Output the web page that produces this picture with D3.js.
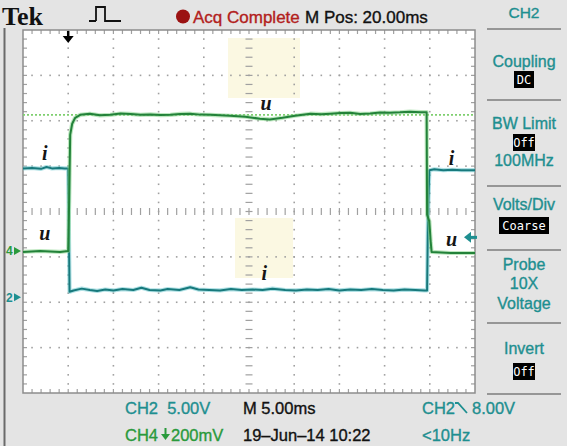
<!DOCTYPE html>
<html>
<head>
<meta charset="utf-8">
<script src="https://cdn.jsdelivr.net/npm/d3@7"></script>
<style>
  body { margin: 0; background: #e4e4e4; }
  svg { display: block; }
</style>
</head>
<body>
<div id="scope"></div>
<script>
// Data (time in ms from trigger, CH2 in V, CH4 in mV).
var iTime = [-5, -4, -3, -2.4, -1.8, -1, -0.4, 0, 0.08, 0.15, 0.6, 1.5, 2.4, 3.2, 4.1, 5, 6, 7.2, 8.1, 9, 10.2, 11, 12.3, 13.5, 14.4, 15.6, 16.8, 18, 19.2, 20.4, 21.5, 22.6, 24, 25.2, 26.4, 27.6, 28.8, 30, 31.2, 32.4, 33.6, 34.8, 36, 37.2, 38.4, 39.4, 39.7, 39.8, 39.95, 40.5, 41.5, 42.5, 43.5, 45];
var iVolts = [14.2, 14.25, 14.15, 14.35, 14.2, 14.25, 14.2, 14.2, 7, 0.6, 0.75, 0.95, 0.8, 0.7, 0.85, 0.75, 0.9, 0.8, 1.05, 0.8, 0.75, 0.9, 0.8, 1.1, 0.85, 0.8, 0.75, 0.9, 0.8, 0.85, 0.8, 0.95, 0.8, 0.75, 0.85, 0.8, 0.9, 0.75, 0.85, 0.8, 0.9, 0.8, 0.75, 0.85, 0.8, 0.75, 0.75, 9, 14.0, 14.1, 14.0, 14.05, 14.0, 14.0];

var uTime = [-5, -3.1, -0.9, 0, 0.11, 0.22, 0.44, 0.77, 1.33, 2.4, 3.5, 4.65, 5.8, 6.9, 8, 9.1, 10.2, 11.3, 12.4, 13.5, 14.6, 15.7, 16.8, 17.9, 19.6, 21.2, 22.3, 23.7, 25.1, 26.8, 28, 29, 30.1, 31.2, 32.3, 33.4, 34.5, 35.6, 36.7, 37.8, 39, 39.65, 39.7, 39.95, 40.1, 40.2, 42.3, 45];
var uMilliVolts = [-4, 0, -4, 0, 225, 512, 561, 587, 600, 605, 598, 600, 606, 604, 600, 602, 599, 600, 604, 605, 601, 600, 598, 596, 592, 583, 580, 587, 596, 605, 603, 605, 608, 609, 604, 606, 610, 609, 611, 614, 612, 612, 160, 130, 40, -4, -9, -9];

var refLevel = 600;      // dotted CH4 reference line, mV
var trigMarker = 6.6;    // CH2 trigger marker, V (as drawn on screen)
var ch2Ground = -1.89;   // divisions from centre
var ch4Ground = -0.87;
var ch2PerDiv = 5;       // V/div
var ch4PerDiv = 200;     // mV/div

var uLabels = [[-2.6, -0.63], [21.9, 2.24], [42.4, -0.76]];   // [ms, div] positions of "u"
var iLabels = [[-2.6, 1.13], [42.4, 1.02], [21.7, -1.51]];

var W = 567, H = 446;
var svg = d3.select("#scope").append("svg").attr("width", W).attr("height", H);
var sans = "'Liberation Sans', Arial, sans-serif";
var serif = "'Liberation Serif', 'DejaVu Serif', serif";
var teal = "#1e8f90", green = "#2a9a3c";

svg.append("rect").attr("width", W).attr("height", H).attr("fill", "#e4e4e4");
svg.append("line").attr("x1", 4.5).attr("x2", 4.5).attr("y1", 28).attr("y2", H)
	.attr("stroke", "#6a6a6a").attr("stroke-width", 2);

// Graticule.
var gx = d3.scaleLinear().domain([0, 10]).range([23, 475]);
var gy = d3.scaleLinear().domain([0, 8]).range([30, 393]);
var x = d3.scaleLinear().domain([-5, 45]).range([23, 475]);
var yDiv = d3.scaleLinear().domain([-4, 4]).range([393, 30]);
var yI = function (v) { return yDiv(ch2Ground + v / ch2PerDiv); };
var yU = function (v) { return yDiv(ch4Ground + v / ch4PerDiv); };

svg.append("rect").attr("x", gx(0)).attr("y", gy(0)).attr("width", gx(10) - gx(0)).attr("height", gy(8) - gy(0))
	.attr("fill", "#ffffff");

// Cream patches behind the labels.
svg.append("rect").attr("x", 228).attr("y", 38).attr("width", 72).attr("height", 60).attr("fill", "#fbf8e2");
svg.append("rect").attr("x", 235).attr("y", 218).attr("width", 58).attr("height", 60).attr("fill", "#fbf8e2");

var grid = svg.append("g").attr("fill", "#a0a0a0").attr("stroke", "#a0a0a0");
var minorX = d3.range(1, 50), minorY = d3.range(1, 40);
d3.range(1, 10).forEach(function (i) {
	if (i === 5) return;
	minorY.forEach(function (k) {
		grid.append("rect").attr("x", gx(i) - 0.8).attr("y", gy(k / 5) - 0.8).attr("width", 1.6).attr("height", 1.6).attr("stroke", "none");
	});
});
d3.range(1, 8).forEach(function (j) {
	if (j === 4) return;
	minorX.forEach(function (k) {
		grid.append("rect").attr("x", gx(k / 5) - 0.8).attr("y", gy(j) - 0.8).attr("width", 1.6).attr("height", 1.6).attr("stroke", "none");
	});
});
// Centre lines and border with ticks.
minorX.forEach(function (k) {
	grid.append("line").attr("x1", gx(k / 5)).attr("x2", gx(k / 5)).attr("y1", gy(4) - 3.5).attr("y2", gy(4) + 3.5).attr("stroke-width", 1.2);
	grid.append("line").attr("x1", gx(k / 5)).attr("x2", gx(k / 5)).attr("y1", gy(0)).attr("y2", gy(0) + 4).attr("stroke-width", 1.2);
	grid.append("line").attr("x1", gx(k / 5)).attr("x2", gx(k / 5)).attr("y1", gy(8)).attr("y2", gy(8) - 4).attr("stroke-width", 1.2);
});
minorY.forEach(function (k) {
	grid.append("line").attr("y1", gy(k / 5)).attr("y2", gy(k / 5)).attr("x1", gx(5) - 3.5).attr("x2", gx(5) + 3.5).attr("stroke-width", 1.2);
	grid.append("line").attr("y1", gy(k / 5)).attr("y2", gy(k / 5)).attr("x1", gx(0)).attr("x2", gx(0) + 4).attr("stroke-width", 1.2);
	grid.append("line").attr("y1", gy(k / 5)).attr("y2", gy(k / 5)).attr("x1", gx(10)).attr("x2", gx(10) - 4).attr("stroke-width", 1.2);
});
svg.append("rect").attr("x", gx(0)).attr("y", gy(0)).attr("width", gx(10) - gx(0)).attr("height", gy(8) - gy(0))
	.attr("fill", "none").attr("stroke", "#8c8c8c").attr("stroke-width", 1.5);

// Reference level (dotted).
svg.append("line").attr("x1", gx(0)).attr("x2", gx(10)).attr("y1", yU(refLevel)).attr("y2", yU(refLevel))
	.attr("stroke", "#7fcf6f").attr("stroke-width", 1.6).attr("stroke-dasharray", "2,2");

// Traces.
function trace(ts, vs, yf, glow, core) {
	var pts = ts.map(function (t, k) { return [x(t), yf(vs[k])]; });
	var line = d3.line();
	svg.append("path").attr("d", line(pts)).attr("fill", "none").attr("stroke", glow)
		.attr("stroke-width", 4.2).attr("stroke-opacity", 0.55).attr("stroke-linejoin", "round");
	svg.append("path").attr("d", line(pts)).attr("fill", "none").attr("stroke", core)
		.attr("stroke-width", 2).attr("stroke-linejoin", "round");
}
trace(iTime, iVolts, yI, "#6fc9cf", "#17797c");
trace(uTime, uMilliVolts, yU, "#86d48a", "#23823a");

// Labels on the traces.
function traceLabel(p, s) {
	svg.append("text").attr("x", x(p[0])).attr("y", yDiv(p[1])).attr("text-anchor", "middle")
		.attr("font-family", serif).attr("font-style", "italic").attr("font-weight", "bold").attr("font-size", 20)
		.attr("fill", "#151515").text(s);
}
uLabels.forEach(function (p) { traceLabel(p, "u"); });
iLabels.forEach(function (p) { traceLabel(p, "i"); });

// Ground markers.
function groundMarker(label, yy, col) {
	svg.append("text").attr("x", 6).attr("y", yy + 4.5).attr("font-family", sans).attr("font-weight", "bold")
		.attr("font-size", 12).attr("fill", col).text(label);
	svg.append("path").attr("d", "M14," + (yy - 4) + "L21," + yy + "L14," + (yy + 4) + "Z").attr("fill", col);
}
groundMarker("4", yU(0), green);
groundMarker("2", yI(0), teal);

// Trigger position (top) and level (right).
svg.append("path").attr("d", "M" + x(0) + "," + 31 + "V37").attr("stroke", "#000").attr("stroke-width", 2.5);
svg.append("path").attr("d", "M" + (x(0) - 5.5) + ",36L" + (x(0) + 5.5) + ",36L" + x(0) + ",43Z").attr("fill", "#000");
var ty = yI(trigMarker);
svg.append("path").attr("d", "M464," + ty + "L471," + (ty - 5.5) + "L471," + (ty + 5.5) + "Z").attr("fill", teal);
svg.append("line").attr("x1", 470).attr("x2", 477).attr("y1", ty).attr("y2", ty).attr("stroke", teal).attr("stroke-width", 3);

// Text helper with a light faux-bold stroke, like the scope's font.
function label(g, xx, yy, s, size, col, anchor) {
	return g.append("text").attr("x", xx).attr("y", yy).attr("font-family", sans).attr("font-size", size)
		.attr("fill", col).attr("stroke", col).attr("stroke-width", 0.35)
		.attr("text-anchor", anchor || "start").attr("xml:space", "preserve").text(s);
}

// Header.
svg.append("text").attr("x", 2).attr("y", 25).attr("font-family", serif).attr("font-weight", "bold")
	.attr("font-size", 26).attr("fill", "#111").text("Tek");
svg.append("path").attr("d", "M89,21H96M96,21V7H105V21H112M112,21H121")
	.attr("fill", "none").attr("stroke", "#111").attr("stroke-width", 1.8);
svg.append("circle").attr("cx", 183).attr("cy", 16.5).attr("r", 7).attr("fill", "#9b1212");
label(svg, 193, 23, "Acq Complete", 17, "#b2201c");
label(svg, 305, 23, "M Pos: 20.00ms", 17, "#111");

// Right menu.
var cx = 524;
label(svg, cx, 18, "CH2", 15.5, teal, "middle");
[29, 100, 186, 250, 323, 394].forEach(function (yy) {
	svg.append("line").attr("x1", 487).attr("x2", 561).attr("y1", yy).attr("y2", yy).attr("stroke", "#7d7d7d").attr("stroke-width", 1.6);
});
function menuBox(t, yy, w) {
	svg.append("rect").attr("x", cx - w / 2).attr("y", yy - 13).attr("width", w).attr("height", 17).attr("fill", "#000");
	svg.append("text").attr("x", cx).attr("y", yy).attr("text-anchor", "middle").attr("font-family", "'DejaVu Sans Mono', monospace")
		.attr("font-size", 12).attr("fill", "#fff").text(t);
}
label(svg, cx, 67, "Coupling", 16, teal, "middle");
menuBox("DC", 84, 20);
label(svg, cx, 129, "BW Limit", 16, teal, "middle");
menuBox("Off", 147, 22);
label(svg, cx, 166, "100MHz", 16, teal, "middle");
label(svg, cx, 210, "Volts/Div", 16, teal, "middle");
menuBox("Coarse", 230, 50);
label(svg, cx, 270, "Probe", 16, teal, "middle");
label(svg, cx, 289, "10X", 16, teal, "middle");
label(svg, cx, 309, "Voltage", 16, teal, "middle");
label(svg, cx, 354, "Invert", 16, teal, "middle");
menuBox("Off", 376, 22);

// Footer.
label(svg, 125, 414, "CH2  5.00V", 16.5, teal);
label(svg, 243, 414, "M 5.00ms", 16.5, "#111");
label(svg, 422, 414, "CH2", 16.5, teal);
svg.append("path").attr("d", "M455,403H458L467,413").attr("fill", "none").attr("stroke", teal).attr("stroke-width", 1.8);
label(svg, 472, 414, "8.00V", 16.5, teal);
label(svg, 125, 441, "CH4", 16.5, green);
svg.append("path").attr("d", "M165.5,428V437").attr("stroke", green).attr("stroke-width", 2);
svg.append("path").attr("d", "M161,434H170L165.5,440Z").attr("fill", green);
label(svg, 171, 441, "200mV", 16.5, green);
label(svg, 243, 441, "19\u2013Jun\u201314 10:22", 16.5, "#111");
label(svg, 422, 441, "<10Hz", 16.5, teal);
</script>
</body>
</html>
